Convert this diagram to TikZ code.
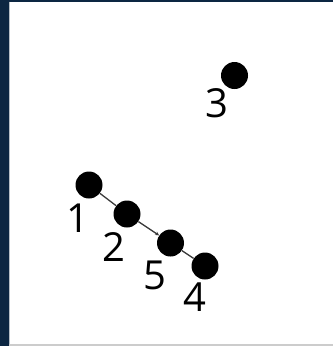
\documentclass[tikz,border=0pt]{standalone}
\usepackage{fontspec}
\setmainfont{Open Sans}
\usetikzlibrary{arrows.meta}
\definecolor{frame}{HTML}{0C2642}
\definecolor{edgegray}{HTML}{3A3A3A}
\tikzset{
  vertex/.style={circle, fill=black, minimum size=27pt, inner sep=0pt},
  vlabel/.style={font=\fontsize{40}{40}\selectfont, inner sep=0pt},
  edge/.style={draw=edgegray, line width=1.3pt}
}
\begin{document}
\begin{tikzpicture}[x=1pt, y=-1pt]
    % Frame
    \useasboundingbox (0,0) rectangle (333,346);
    \fill[frame] (0,0) rectangle (9,346);
    \fill[frame] (0,0) rectangle (333,1.6);
    \fill[gray!40] (9,344) rectangle (333,346);
    \draw[frame!30, line width=0.8pt] (9.4,1.6) -- (9.4,344);

    % Vertices
    \node[vertex] (n1) at (89,185) {};
    \node[vertex] (n2) at (127,214) {};
    \node[vertex] (n5) at (170.5,243) {};
    \node[vertex] (n4) at (205,266) {};
    \node[vertex] (n3) at (234.5,75.5) {};

    % Labels
    \node[vlabel] (l1) at (77.5,218) {1};
    \node[vlabel] (l2) at (114,247) {2};
    \node[vlabel] (l5) at (155,275) {5};
    \node[vlabel] (l4) at (195,297) {4};
    \node[vlabel] (l3) at (216.5,103) {3};

    % Edges
    \draw[edge] (n1) -- (n2);
    \draw[edge, -{Stealth[length=4pt, width=4pt]}] (n2) -- (n5);
    \draw[edge] (n5) -- (n4);
\end{tikzpicture}
\end{document}
